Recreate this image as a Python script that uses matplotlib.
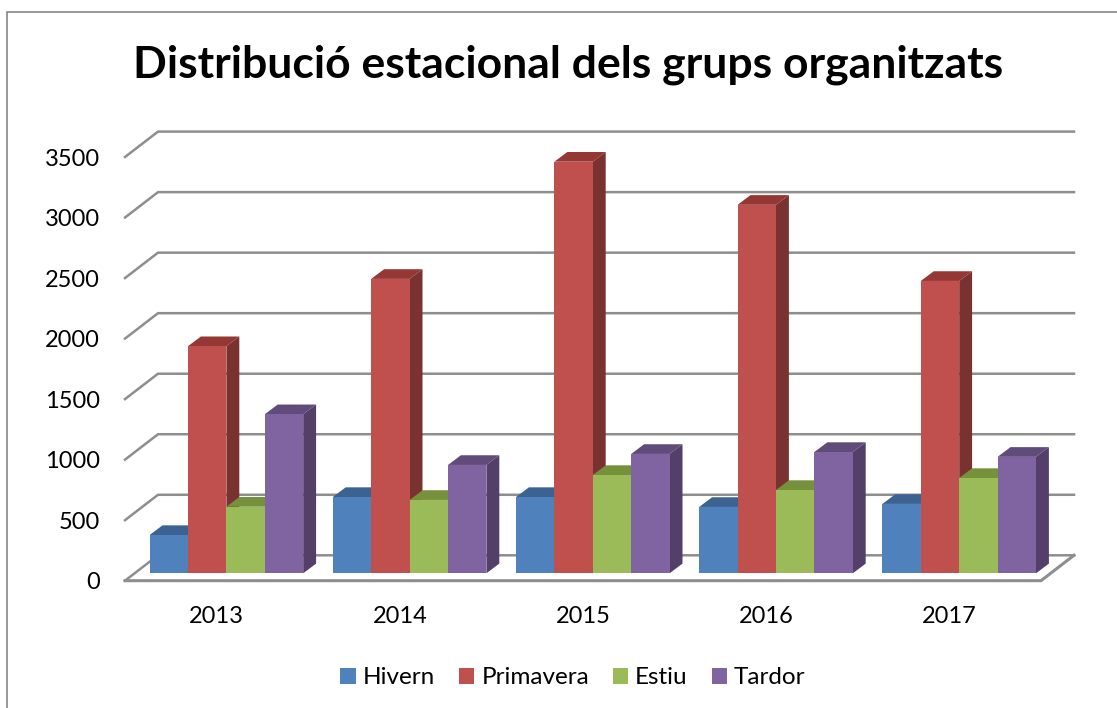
import matplotlib
matplotlib.use('Agg')
import matplotlib.pyplot as plt
from matplotlib.patches import Polygon, Rectangle, Patch
import numpy as np

plt.rcParams['font.family'] = ['Lato', 'DejaVu Sans']

# ---- data ----
years = ['2013', '2014', '2015', '2016', '2017']
series = ['Hivern', 'Primavera', 'Estiu', 'Tardor']
hivern = [316, 630, 630, 548, 573]
primavera = [1876, 2432, 3400, 3044, 2415]
estiu = [550, 606, 812, 688, 787]
tardor = [1314, 895, 986, 1002, 962]
yticks = [0, 500, 1000, 1500, 2000, 2500, 3000, 3500]

# ---- colours ----
front = ['#4F81BD', '#C0504D', '#9BBB59', '#8064A2']
top = ['#3B6291', '#953734', '#76913C', '#614B7B']
side = ['#2F4E75', '#7A3230', '#5F7530', '#543F69']
gridc = '#8E8E8E'

W, H = 1117, 708
fig = plt.figure(figsize=(W / 100, H / 100), dpi=100)
fig.patch.set_facecolor('white')

# chart frame
fig.add_artist(Rectangle((6.5 / W, -0.1), 1.2, 1.1 - 12.5 / H, transform=fig.transFigure,
                         facecolor='none', edgecolor='#868686', linewidth=1.2))

# axes = front plane of the 3D box
x0, x1 = 125, 1041
y0, y3500 = 580.7, 157
ax = fig.add_axes([x0 / W, 1 - y0 / H, (x1 - x0) / W, (y0 - y3500) / H])
ax.set_xlim(0, 5)
ax.set_ylim(0, 3500)
for s in ax.spines.values():
    s.set_visible(False)
ax.patch.set_visible(False)

px_x = 5 / (x1 - x0)
px_y = 3500 / (y0 - y3500)

# depth of the box and of the bars, px converted to data units
box_dx, box_dy = 33 * px_x, 25.4 * px_y
bar_dx, bar_dy = 12.9 * px_x, 9.7 * px_y
base_x, base_y = 9.8 * px_x, 7.4 * px_y
bar_w = 38.4 * px_x

# walls and floor lines
for v in yticks:
    ax.plot([0, box_dx, 5 + box_dx], [v, v + box_dy, v + box_dy], color=gridc,
            linewidth=1.8, clip_on=False, zorder=1)
ax.plot([0, 5, 5 + box_dx], [0, 0, box_dy], color=gridc, linewidth=2.2, clip_on=False, zorder=1)

# bars, painted left to right so the depth faces overlap correctly
values = [hivern, primavera, estiu, tardor]
for i in range(len(years)):
    for j in range(len(series)):
        v = values[j][i]
        left = i + 0.5 + base_x + (j - 2) * bar_w
        right = left + bar_w
        b = base_y
        t = base_y + v
        z = 3 + i * 10 + j
        ax.add_patch(Polygon([(left, t), (right, t), (right + bar_dx, t + bar_dy), (left + bar_dx, t + bar_dy)],
                             facecolor=top[j], edgecolor='none', clip_on=False, zorder=z))
        ax.add_patch(Polygon([(right, b), (right + bar_dx, b + bar_dy), (right + bar_dx, t + bar_dy), (right, t)],
                             facecolor=side[j], edgecolor='none', clip_on=False, zorder=z))
        ax.bar(left, v, width=bar_w, bottom=b, align='edge', color=front[j], linewidth=0,
               clip_on=False, zorder=z + 0.5)

ax.set_xticks(np.arange(5) + 0.5)
ax.set_xticklabels(years)
ax.set_yticks(yticks)
ax.tick_params(axis='both', length=0, labelsize=17, labelcolor='black')
ax.tick_params(axis='x', pad=18)
ax.tick_params(axis='y', pad=18)

fig.text(568 / W, 1 - 65 / H, 'Distribució estacional dels grups organitzats',
         ha='center', va='center', fontsize=32, fontweight='bold', color='black')

handles = [Patch(facecolor=c, edgecolor='none', label=n) for c, n in zip(front, series)]
fig.legend(handles=handles, loc='center', bbox_to_anchor=(573 / W, 1 - 678 / H), ncol=4, frameon=False,
           fontsize=17.5, handlelength=0.62, handleheight=0.62, handletextpad=0.3, columnspacing=0.98)

fig.savefig('out.png', dpi=100)
